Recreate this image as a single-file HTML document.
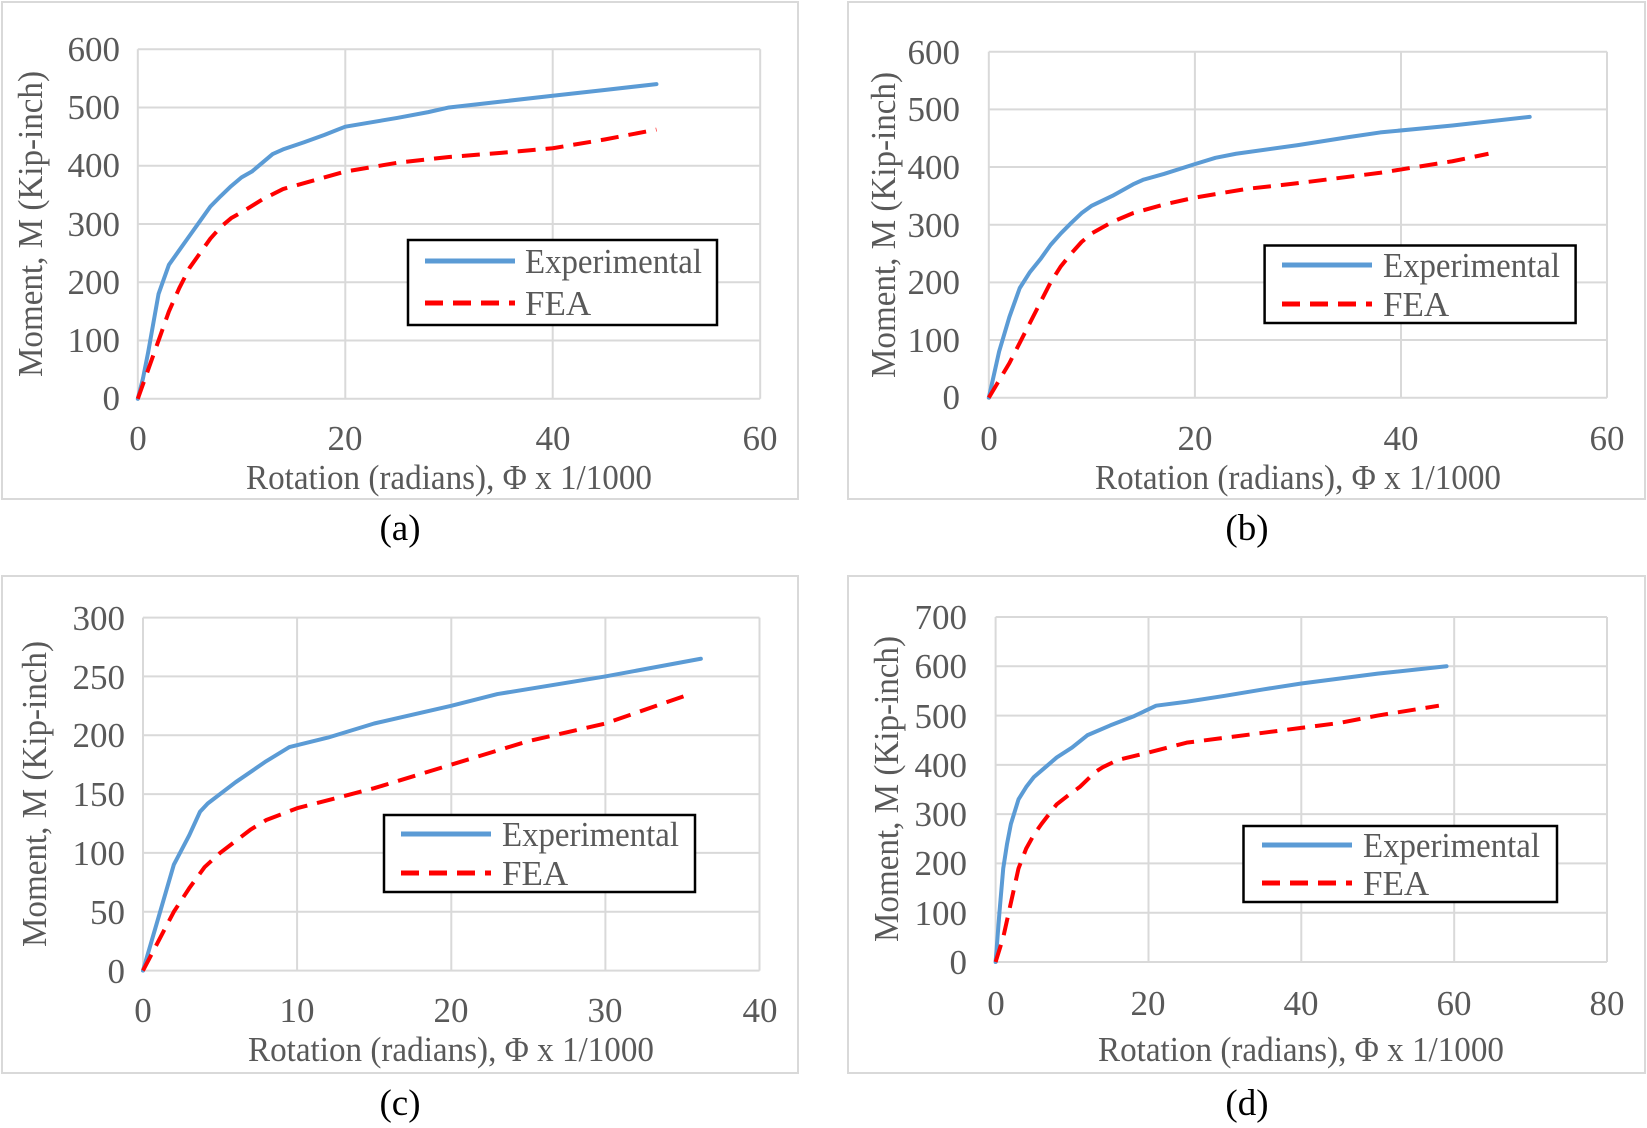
<!DOCTYPE html>
<html><head><meta charset="utf-8"><style>
html,body{margin:0;padding:0;background:#fff;}
svg{display:block}
text{font-family:"Liberation Serif",serif;fill:#595959;font-size:35px}
.cap{fill:#000;font-size:37px}
.g{stroke:#d9d9d9;stroke-width:2;fill:none}
.e{stroke:#5b9bd5;stroke-width:4;fill:none;vector-effect:non-scaling-stroke;stroke-linejoin:round;stroke-linecap:round}
.f{stroke:#ff0000;stroke-width:4;fill:none;vector-effect:non-scaling-stroke;stroke-dasharray:18 10;stroke-linejoin:round}
.lg{fill:#fff;stroke:#000;stroke-width:2.5}
</style></head><body>
<svg width="1647" height="1128" viewBox="0 0 1647 1128">
<rect x="2" y="2" width="796" height="497" fill="none" stroke="#d9d9d9" stroke-width="2"/>
<rect x="848" y="2" width="797" height="497" fill="none" stroke="#d9d9d9" stroke-width="2"/>
<rect x="2" y="576" width="796" height="497" fill="none" stroke="#d9d9d9" stroke-width="2"/>
<rect x="848" y="576" width="797" height="497" fill="none" stroke="#d9d9d9" stroke-width="2"/>

<!-- Panel A -->
<g>
<path class="g" d="M137.8 49.2H760.2M137.8 107.5H760.2M137.8 165.8H760.2M137.8 224H760.2M137.8 282.3H760.2M137.8 340.5H760.2M137.8 398.8H760.2M137.8 49.2V398.8M345.3 49.2V398.8M552.7 49.2V398.8M760.2 49.2V398.8"/>
<g text-anchor="end"><text x="120" y="61">600</text><text x="120" y="119">500</text><text x="120" y="177">400</text><text x="120" y="236">300</text><text x="120" y="294">200</text><text x="120" y="352">100</text><text x="120" y="410">0</text></g>
<g text-anchor="middle"><text x="138" y="450">0</text><text x="345" y="450">20</text><text x="553" y="450">40</text><text x="760" y="450">60</text></g>
<text x="449" y="489" text-anchor="middle" textLength="406" lengthAdjust="spacingAndGlyphs">Rotation (radians), Φ x 1/1000</text>
<text transform="translate(42 224) rotate(-90)" text-anchor="middle" textLength="306" lengthAdjust="spacingAndGlyphs">Moment, M (Kip-inch)</text>
<g transform="translate(137.8 398.8) scale(10.373 -0.5827)">
<polyline class="e" points="0,0 0.5,35 1,80 1.5,130 2,180 2.5,205 3,230 4,255 5,280 6,305 7,330 8,348 9,365 10,380 11,390 12,405 13,420 14,428 16,440 18,453 20,467 22,473 25,482 28,492 30,500 35,510 40,520 45,530 50,540"/>
<polyline class="f" points="0,0 1,50 2,100 3,150 4,190 5,225 6,250 7,275 8,295 9,310 10,320 12,342 14,360 17,375 20,390 25,405 30,415 35,422 40,430 45,445 50,462"/>
</g>
<rect class="lg" x="408" y="240" width="309" height="85"/>
<line x1="425" y1="261" x2="515" y2="261" stroke="#5b9bd5" stroke-width="5"/>
<line x1="425" y1="303" x2="515" y2="303" stroke="#ff0000" stroke-width="5" stroke-dasharray="18 10"/>
<text x="525" y="273" textLength="177" lengthAdjust="spacingAndGlyphs">Experimental</text>
<text x="525" y="315">FEA</text>
<text class="cap" x="400" y="540" text-anchor="middle">(a)</text>
</g>

<!-- Panel B -->
<g>
<path class="g" d="M988.8 51.7H1607M988.8 109.4H1607M988.8 167H1607M988.8 224.7H1607M988.8 282.4H1607M988.8 340H1607M988.8 397.7H1607M988.8 51.7V397.7M1194.9 51.7V397.7M1401 51.7V397.7M1607 51.7V397.7"/>
<g text-anchor="end"><text x="960" y="64">600</text><text x="960" y="121">500</text><text x="960" y="179">400</text><text x="960" y="237">300</text><text x="960" y="294">200</text><text x="960" y="352">100</text><text x="960" y="409">0</text></g>
<g text-anchor="middle"><text x="989" y="450">0</text><text x="1195" y="450">20</text><text x="1401" y="450">40</text><text x="1607" y="450">60</text></g>
<text x="1298" y="489" text-anchor="middle" textLength="406" lengthAdjust="spacingAndGlyphs">Rotation (radians), Φ x 1/1000</text>
<text transform="translate(895 225) rotate(-90)" text-anchor="middle" textLength="306" lengthAdjust="spacingAndGlyphs">Moment, M (Kip-inch)</text>
<g transform="translate(988.8 397.7) scale(10.303 -0.5767)">
<polyline class="e" points="0,0 0.5,40 1,80 2,140 3,190 4,218 5,240 6,265 7,285 8,303 9,320 10,333 12,350 14,370 15,378 17,388 20,405 22,416 24,423 30,438 35,452 38,460 45,472 52.5,487"/>
<polyline class="f" points="0,0 1,30 2,60 3,95 4,130 5,165 6,200 7,228 8,250 9,270 10,285 12,305 14,320 17,335 20,347 25,362 30,372 38,390 45,410 48.5,423"/>
</g>
<rect class="lg" x="1264.6" y="245.5" width="311" height="77.5"/>
<line x1="1282" y1="265" x2="1372" y2="265" stroke="#5b9bd5" stroke-width="5"/>
<line x1="1282" y1="304" x2="1372" y2="304" stroke="#ff0000" stroke-width="5" stroke-dasharray="18 10"/>
<text x="1383" y="277" textLength="177" lengthAdjust="spacingAndGlyphs">Experimental</text>
<text x="1383" y="316">FEA</text>
<text class="cap" x="1247" y="540" text-anchor="middle">(b)</text>
</g>

<!-- Panel C -->
<g>
<path class="g" d="M143 617.6H759.5M143 676.4H759.5M143 735.3H759.5M143 794.1H759.5M143 852.9H759.5M143 911.8H759.5M143 970.6H759.5M143 617.6V970.6M297.1 617.6V970.6M451.3 617.6V970.6M605.4 617.6V970.6M759.5 617.6V970.6"/>
<g text-anchor="end"><text x="125" y="630">300</text><text x="125" y="689">250</text><text x="125" y="747">200</text><text x="125" y="806">150</text><text x="125" y="865">100</text><text x="125" y="924">50</text><text x="125" y="983">0</text></g>
<g text-anchor="middle"><text x="143" y="1022">0</text><text x="297" y="1022">10</text><text x="451" y="1022">20</text><text x="605" y="1022">30</text><text x="760" y="1022">40</text></g>
<text x="451" y="1061" text-anchor="middle" textLength="406" lengthAdjust="spacingAndGlyphs">Rotation (radians), Φ x 1/1000</text>
<text transform="translate(46 794) rotate(-90)" text-anchor="middle" textLength="306" lengthAdjust="spacingAndGlyphs">Moment, M (Kip-inch)</text>
<g transform="translate(143 970.6) scale(15.41 -1.1767)">
<polyline class="e" points="0,0 1,45 2,90 3,115 3.7,135 4.2,142 6,160 8,178 9.5,190 12,198 15,210 20,225 23,235 30,250 36.2,265"/>
<polyline class="f" points="0,0 1,25 2,50 3,70 4,88 5,100 6,110 7,120 8,128 10,138 15,155 20,175 25,195 30,210 35.5,235"/>
</g>
<rect class="lg" x="384" y="815" width="311" height="77"/>
<line x1="401" y1="834" x2="491" y2="834" stroke="#5b9bd5" stroke-width="5"/>
<line x1="401" y1="873" x2="491" y2="873" stroke="#ff0000" stroke-width="5" stroke-dasharray="18 10"/>
<text x="502" y="846" textLength="177" lengthAdjust="spacingAndGlyphs">Experimental</text>
<text x="502" y="885">FEA</text>
<text class="cap" x="400" y="1115" text-anchor="middle">(c)</text>
</g>

<!-- Panel D -->
<g>
<path class="g" d="M995.6 617H1607M995.6 666.3H1607M995.6 715.6H1607M995.6 764.9H1607M995.6 814.1H1607M995.6 863.4H1607M995.6 912.7H1607M995.6 962H1607M995.6 617V962M1148.5 617V962M1301.3 617V962M1454.2 617V962M1607 617V962"/>
<g text-anchor="end"><text x="967" y="629">700</text><text x="967" y="678">600</text><text x="967" y="728">500</text><text x="967" y="777">400</text><text x="967" y="826">300</text><text x="967" y="875">200</text><text x="967" y="925">100</text><text x="967" y="974">0</text></g>
<g text-anchor="middle"><text x="996" y="1015">0</text><text x="1148" y="1015">20</text><text x="1301" y="1015">40</text><text x="1454" y="1015">60</text><text x="1607" y="1015">80</text></g>
<text x="1301" y="1061" text-anchor="middle" textLength="406" lengthAdjust="spacingAndGlyphs">Rotation (radians), Φ x 1/1000</text>
<text transform="translate(898 789) rotate(-90)" text-anchor="middle" textLength="306" lengthAdjust="spacingAndGlyphs">Moment, M (Kip-inch)</text>
<g transform="translate(995.6 962) scale(7.643 -0.4929)">
<polyline class="e" points="0,0 0.5,100 1,190 1.5,240 2,280 3,330 4,355 5,375 6.5,395 8,415 10,435 12,460 15,480 18,498 21,520 25,528 30,540 35,553 40,565 50,585 59,600"/>
<polyline class="f" points="0,0 1,50 2,120 3,190 4,230 5,258 6,280 7,300 8,320 9.5,338 11,355 12,370 13,385 14,395 16,410 20,425 25,445 30,455 35,465 40,475 45,485 50,500 58,520"/>
</g>
<rect class="lg" x="1243.5" y="826" width="313.5" height="76"/>
<line x1="1262" y1="845" x2="1352" y2="845" stroke="#5b9bd5" stroke-width="5"/>
<line x1="1262" y1="883" x2="1352" y2="883" stroke="#ff0000" stroke-width="5" stroke-dasharray="18 10"/>
<text x="1363" y="857" textLength="177" lengthAdjust="spacingAndGlyphs">Experimental</text>
<text x="1363" y="895">FEA</text>
<text class="cap" x="1247" y="1115" text-anchor="middle">(d)</text>
</g>
</svg>
</body></html>
